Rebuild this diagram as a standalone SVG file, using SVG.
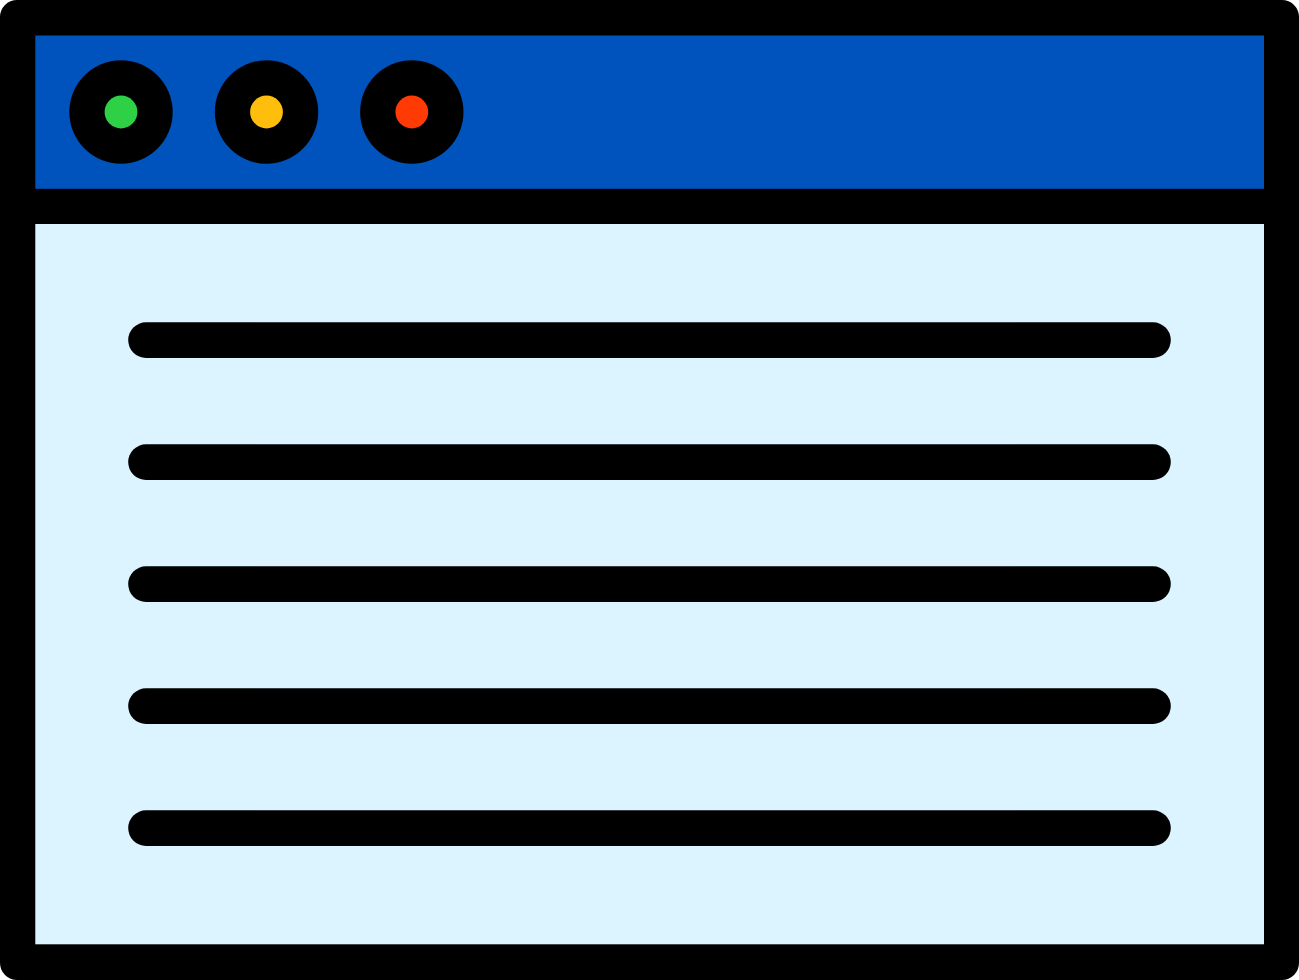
<svg xmlns="http://www.w3.org/2000/svg" width="1299" height="980" viewBox="0 0 1299 980">
<style>.l{fill:#000}.d{fill:#000}</style>
<rect width="1299" height="980" fill="#fff"/>
<rect id="frame" x="0" y="0" width="1299" height="980" rx="17" fill="#000"/>
<rect id="titlebar" x="35.300" y="35.500" width="1228.700" height="153.300" fill="#0053bd"/>
<rect id="content" x="35.300" y="224" width="1228.700" height="720.300" fill="#dbf4ff"/>
<g id="btn1"><circle class="d" cx="121" cy="112" r="51.700"/><circle cx="121" cy="112" r="16.400" fill="#2ed045"/></g>
<g id="btn2"><circle class="d" cx="266.500" cy="112" r="51.700"/><circle cx="266.500" cy="112" r="16.400" fill="#ffbe0c"/></g>
<g id="btn3"><circle class="d" cx="411.800" cy="112" r="51.700"/><circle cx="411.800" cy="112" r="16.400" fill="#ff3a05"/></g>
<g id="lines">
<rect class="l" x="128.200" y="322.300" width="1042.600" height="35.600" rx="17.800"/>
<rect class="l" x="128.200" y="444.300" width="1042.600" height="35.600" rx="17.800"/>
<rect class="l" x="128.200" y="566.300" width="1042.600" height="35.600" rx="17.800"/>
<rect class="l" x="128.200" y="688.300" width="1042.600" height="35.600" rx="17.800"/>
<rect class="l" x="128.200" y="810.300" width="1042.600" height="35.600" rx="17.800"/>
</g>
</svg>
